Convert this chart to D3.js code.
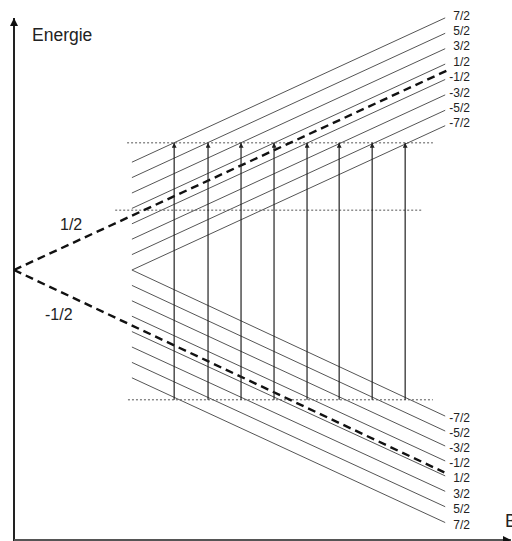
<!DOCTYPE html>
<html>
<head>
<meta charset="utf-8">
<script src="https://d3js.org/d3.v7.min.js"></script>
<style>
  body { margin: 0; background: #fff; }
  text { font-family: "Liberation Sans", Arial, sans-serif; fill: #222; }
</style>
</head>
<body>
<div id="my_dataviz"></div>
<script>
// nuclear spin labels, top to bottom in each group
var upperLabels = ["7/2", "5/2", "3/2", "1/2", "-1/2", "-3/2", "-5/2", "-7/2"];
var lowerLabels = ["-7/2", "-5/2", "-3/2", "-1/2", "1/2", "3/2", "5/2", "7/2"];

// energies of the hyperfine levels at the start field and at the end field
var upperStartE = [24.5, 21, 17.5, 14, 10.5, 7, 3.5, 0];
var upperEndE = [57.3, 53.8, 50.3, 46.8, 43.3, 39.8, 36.3, 32.8];
var lowerStartE = [0, -3.5, -7, -10.5, -14, -17.5, -21, -24.5];
var lowerEndE = [-33.2, -36.6, -40, -43.4, -46.8, -50.3, -53.8, -57.4];
var levelStartB = 26.8;
var levelEndB = 98;

// electron spin levels (dashed)
var electronLabels = ["1/2", "-1/2"];
var electronEndB = [99, 97.8];
var electronEndE = [45.6, -46];

// resonance fields of the transitions
var transitionB = [36.4, 44.1, 51.6, 59.1, 66.6, 73.9, 81.4, 88.9];
var photonLowE = -29.5;
var photonHighE = 28.9;

// horizontal reference levels
var refLevelE = [28.9, 13.6, -29.5];
var refLevelFrom = [25.7, 23.0, 25.9];
var refLevelTo = [95.2, 92.7, 95.2];

var width = 512, height = 541;

var svg = d3.select("#my_dataviz")
  .append("svg")
  .attr("width", width)
  .attr("height", height);

var x = d3.scaleLinear().domain([0, 100]).range([14, 454]);
var y = d3.scaleLinear().domain([-60, 60]).range([534, 6]);

var defs = svg.append("defs");
defs.append("marker")
  .attr("id", "head")
  .attr("viewBox", "0 0 10 10")
  .attr("refX", 10).attr("refY", 5)
  .attr("markerWidth", 5).attr("markerHeight", 5)
  .attr("markerUnits", "userSpaceOnUse")
  .attr("orient", "auto")
  .append("path")
  .attr("d", "M0,0L10,5L0,10Z")
  .attr("fill", "#222");
defs.append("marker")
  .attr("id", "axhead")
  .attr("viewBox", "0 0 10 10")
  .attr("refX", 10).attr("refY", 5)
  .attr("markerWidth", 10).attr("markerHeight", 8)
  .attr("markerUnits", "userSpaceOnUse")
  .attr("orient", "auto")
  .append("path")
  .attr("d", "M0,0L10,5L0,10Z")
  .attr("fill", "#111");

// axes
svg.append("line")
  .attr("x1", x(0)).attr("y1", height)
  .attr("x2", x(0)).attr("y2", 18)
  .attr("stroke", "#222").attr("stroke-width", 2)
  .attr("marker-end", "url(#axhead)");
svg.append("line")
  .attr("x1", x(0)).attr("y1", 540)
  .attr("x2", 511).attr("y2", 540)
  .attr("stroke", "#555").attr("stroke-width", 2)
  .attr("marker-end", "url(#axhead)");

svg.append("text")
  .attr("x", 32).attr("y", 41)
  .style("font-size", "17.5px")
  .text("Energie");
svg.append("text")
  .attr("x", 505).attr("y", 527)
  .style("font-size", "18px")
  .text("B");

// dotted reference levels
svg.selectAll(".ref")
  .data(refLevelE)
  .enter()
  .append("line")
  .attr("class", "ref")
  .attr("x1", function(d, i) { return x(refLevelFrom[i]); })
  .attr("x2", function(d, i) { return x(refLevelTo[i]); })
  .attr("y1", function(d) { return y(d); })
  .attr("y2", function(d) { return y(d); })
  .attr("stroke", "#555").attr("stroke-width", 1)
  .attr("stroke-dasharray", "2,2");

// hyperfine levels
function drawGroup(labels, startE, endE, up) {
  var g = svg.append("g");
  g.selectAll("line")
    .data(labels)
    .enter()
    .append("line")
    .attr("x1", x(levelStartB))
    .attr("y1", function(d, i) { return y(startE[i]); })
    .attr("x2", x(levelEndB))
    .attr("y2", function(d, i) { return y(endE[i]); })
    .attr("stroke", "#555").attr("stroke-width", 1);
  g.selectAll("text")
    .data(labels)
    .enter()
    .append("text")
    .attr("x", 470)
    .attr("y", function(d, i) { return y(endE[i]) + (up ? -2.5 : 2); })
    .attr("dy", "0.35em")
    .attr("text-anchor", "end")
    .style("font-size", "12px")
    .text(function(d) { return d; });
}
drawGroup(upperLabels, upperStartE, upperEndE, true);
drawGroup(lowerLabels, lowerStartE, lowerEndE, false);

// electron spin levels
svg.selectAll(".elec")
  .data(electronLabels)
  .enter()
  .append("line")
  .attr("class", "elec")
  .attr("x1", x(0)).attr("y1", y(0))
  .attr("x2", function(d, i) { return x(electronEndB[i]); })
  .attr("y2", function(d, i) { return y(electronEndE[i]); })
  .attr("stroke", "#111").attr("stroke-width", 2.4)
  .attr("stroke-dasharray", "8,5");

svg.append("text")
  .attr("x", 60).attr("y", 230)
  .style("font-size", "16px")
  .text(electronLabels[0]);
svg.append("text")
  .attr("x", 45).attr("y", 320)
  .style("font-size", "16px")
  .text(electronLabels[1]);

// transitions
svg.selectAll(".trans")
  .data(transitionB)
  .enter()
  .append("line")
  .attr("class", "trans")
  .attr("x1", function(d) { return x(d); })
  .attr("x2", function(d) { return x(d); })
  .attr("y1", y(photonLowE))
  .attr("y2", y(photonHighE))
  .attr("stroke", "#222").attr("stroke-width", 1.2)
  .attr("marker-end", "url(#head)");
</script>
</body>
</html>
